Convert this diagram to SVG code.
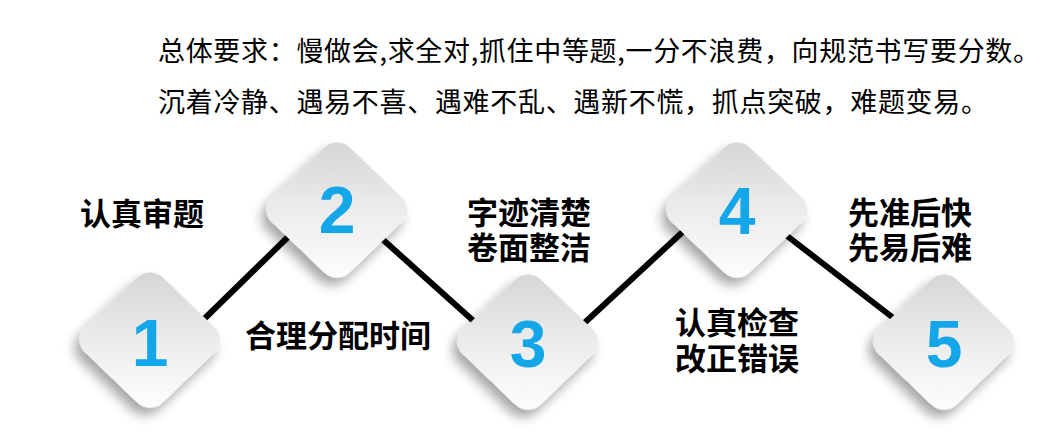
<svg xmlns="http://www.w3.org/2000/svg" width="1058" height="445" viewBox="0 0 1058 445">
<style>
.top{font-family:"Noto Sans CJK SC","Noto Sans CJK JP",sans-serif;font-size:27px;fill:#000}
.lab{font-family:"Noto Sans CJK SC","Noto Sans CJK JP",sans-serif;font-size:31px;font-weight:bold;fill:#000}
.num{font-family:"Liberation Sans",Arial,sans-serif;font-size:66px;font-weight:bold;fill:#13a6e8;text-anchor:middle}
.dia{fill:url(#g);filter:url(#sh)}
.con{stroke:#000;stroke-width:6;fill:none}
</style>
<defs>
<linearGradient id="g" x1="0" y1="0" x2="1" y2="1">
<stop offset="0" stop-color="#d4d4d4"/>
<stop offset="0.55" stop-color="#eeeeee"/>
<stop offset="1" stop-color="#ffffff"/>
</linearGradient>
<filter id="sh" x="-40%" y="-40%" width="180%" height="190%">
<feGaussianBlur in="SourceAlpha" stdDeviation="6"/>
<feOffset dx="2" dy="9" result="b"/>
<feComponentTransfer><feFuncA type="linear" slope="0.35"/></feComponentTransfer>
<feMerge><feMergeNode/><feMergeNode in="SourceGraphic"/></feMerge>
</filter>
<rect id="d" x="-55" y="-55" width="110" height="110" rx="18" transform="rotate(45)"/>
</defs>
<rect width="1058" height="445" fill="#fff"/>
<text class="top" x="158" y="61" textLength="882" lengthAdjust="spacing">总体要求：慢做会,求全对,抓住中等题,一分不浪费，向规范书写要分数。</text>
<text class="top" x="158" y="112" textLength="830" lengthAdjust="spacing">沉着冷静、遇易不喜、遇难不乱、遇新不慌，抓点突破，难题变易。</text>
<g id="connectors">
<line class="con" x1="198" y1="325" x2="290" y2="235"/>
<line class="con" x1="380" y1="237" x2="478" y2="325"/>
<line class="con" x1="580" y1="327" x2="688" y2="227"/>
<line class="con" x1="782" y1="232" x2="896" y2="320"/>
</g>
<g id="n1"><g transform="translate(150,340) scale(1,0.96)"><rect class="dia" x="-55" y="-55" width="110" height="110" rx="18" transform="rotate(45)"/></g><text class="num" x="150" y="366">1</text></g>
<g id="n2"><g transform="translate(337,210) scale(1,0.96)"><rect class="dia" x="-55" y="-55" width="110" height="110" rx="18" transform="rotate(45)"/></g><text class="num" x="337" y="233">2</text></g>
<g id="n3"><g transform="translate(528,342) scale(1,0.96)"><rect class="dia" x="-55" y="-55" width="110" height="110" rx="18" transform="rotate(45)"/></g><text class="num" x="528" y="367">3</text></g>
<g id="n4"><g transform="translate(737,210) scale(1,0.96)"><rect class="dia" x="-55" y="-55" width="110" height="110" rx="18" transform="rotate(45)"/></g><text class="num" x="737" y="234">4</text></g>
<g id="n5"><g transform="translate(944,342) scale(1,0.96)"><rect class="dia" x="-55" y="-55" width="110" height="110" rx="18" transform="rotate(45)"/></g><text class="num" x="944" y="367">5</text></g>
<g id="l1"><text class="lab" x="80" y="225">认真审题</text></g>
<g id="l2"><text class="lab" x="245" y="347">合理分配时间</text></g>
<g id="l3"><text class="lab" x="467" y="224">字迹清楚</text><text class="lab" x="467" y="259">卷面整洁</text></g>
<g id="l4"><text class="lab" x="675" y="334">认真检查</text><text class="lab" x="675" y="370">改正错误</text></g>
<g id="l5"><text class="lab" x="848" y="224">先准后快</text><text class="lab" x="848" y="259">先易后难</text></g>
</svg>
